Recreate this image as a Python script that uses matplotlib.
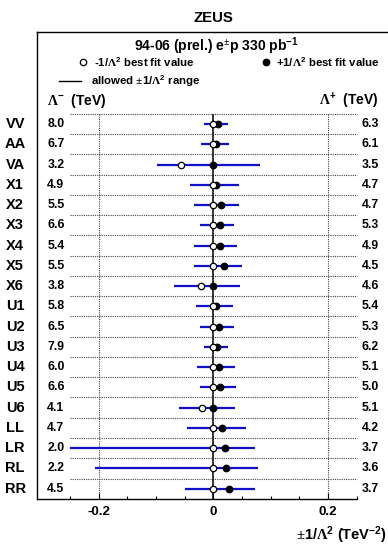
import numpy as np
import matplotlib.pyplot as plt
from matplotlib.ticker import FixedLocator

plt.rcParams['font.family'] = ['Liberation Sans', 'DejaVu Sans']
plt.rcParams['font.weight'] = 'bold'
plt.rcParams['mathtext.fontset'] = 'custom'
plt.rcParams['mathtext.rm'] = 'Liberation Serif'
plt.rcParams['mathtext.bf'] = 'Liberation Sans:bold'
plt.rcParams['mathtext.it'] = 'Liberation Sans:bold'

# contact interaction models, top to bottom
models = ['VV', 'AA', 'VA', 'X1', 'X2', 'X3', 'X4', 'X5', 'X6',
          'U1', 'U2', 'U3', 'U4', 'U5', 'U6', 'LL', 'LR', 'RL', 'RR']
lambda_minus = ['8.0', '6.7', '3.2', '4.9', '5.5', '6.6', '5.4', '5.5', '3.8',
                '5.8', '6.5', '7.9', '6.0', '6.6', '4.1', '4.7', '2.0', '2.2', '4.5']
lambda_plus = ['6.3', '6.1', '3.5', '4.7', '4.7', '5.3', '4.9', '4.5', '4.6',
               '5.4', '5.3', '6.2', '5.1', '5.0', '5.1', '4.2', '3.7', '3.6', '3.7']
# allowed range of +-1/Lambda^2 (TeV^-2)
range_lo = [-0.0156, -0.0223, -0.0977, -0.0416, -0.0331, -0.0230, -0.0343, -0.0331, -0.0693,
            -0.0297, -0.0237, -0.0160, -0.0278, -0.0230, -0.0595, -0.0453, -0.2500, -0.2066, -0.0494]
range_hi = [0.0252, 0.0269, 0.0816, 0.0453, 0.0453, 0.0356, 0.0416, 0.0494, 0.0473,
            0.0343, 0.0356, 0.0260, 0.0384, 0.0400, 0.0384, 0.0567, 0.0730, 0.0772, 0.0730]
# best fit values
fit_minus = [0.0, 0.0, -0.056, 0.0, 0.0, 0.0, 0.0, 0.0, -0.021,
             0.0, 0.0, 0.0, 0.0, 0.0, -0.019, 0.0, 0.0, 0.0, 0.0]
fit_plus = [0.0075, 0.005, 0.0, 0.004, 0.013, 0.012, 0.012, 0.019, 0.0,
            0.004, 0.009, 0.007, 0.009, 0.012, 0.0, 0.015, 0.020, 0.022, 0.027]

rows = np.arange(len(models))
XL, XR = -0.308, 0.305
YT, YB = -4.54, 18.51

fig = plt.figure(figsize=(3.88, 5.46), dpi=100)
ax = fig.add_axes([37 / 388, 1 - 499 / 546, 351 / 388, 467 / 546])
ax.set_xlim(XL, XR)
ax.set_ylim(YB, YT)

dot = dict(color='#444444', lw=0.8, linestyle=(0, (1, 1)), zorder=1)
ax.hlines(np.arange(-0.5, len(models) - 1), -0.25, 0.25, **dot)
ax.vlines([-0.2, 0.2], -0.5, YB, **dot)
ax.vlines(0, -0.5, YB, color='black', lw=1.1, zorder=2)

ax.hlines(rows, range_lo, range_hi, color='#1010c8', lw=1.6, zorder=3)
ax.plot(fit_plus, rows, 'o', color='black', ms=4.6, zorder=4)
ax.plot(fit_minus, rows, 'o', mfc='white', mec='black', mew=0.9, ms=4.6, zorder=5)

for r, m, lm, lp in zip(rows, models, lambda_minus, lambda_plus):
    ax.text(-0.346, r, m, ha='center', va='center', fontsize=10.5, clip_on=False)
    ax.text(-0.290, r, lm, ha='left', va='center', fontsize=8.8)
    ax.text(0.289, r, lp, ha='right', va='center', fontsize=8.8)

ax.text(-0.290, -1.14, r'$\Lambda^{\mathbf{-}}$  (TeV)', ha='left', va='center', fontsize=10)
ax.text(0.289, -1.14, r'$\Lambda^{\mathbf{+}}$  (TeV)', ha='right', va='center', fontsize=10)

# legend
ax.plot([-0.27, -0.231], [-2.12, -2.12], color='black', lw=1.0, clip_on=False)
ax.text(-0.214, -2.12, r'allowed $\pm$1/$\Lambda^{\mathbf{2}}$ range', ha='left', va='center', fontsize=8.2)
ax.plot([-0.228], [-3.06], 'o', mfc='white', mec='black', mew=0.9, ms=4.6)
ax.text(-0.208, -3.06, r'-1/$\Lambda^{\mathbf{2}}$ best fit value', ha='left', va='center', fontsize=8.2)
ax.plot([0.092], [-3.06], 'o', color='black', ms=4.6)
ax.text(0.110, -3.06, r'+1/$\Lambda^{\mathbf{2}}$ best fit value', ha='left', va='center', fontsize=8.2)
ax.text(0.005, -3.85, r'94-06 (prel.) e$^{\pm}$p 330 pb$^{\mathbf{-1}}$', ha='center', va='center', fontsize=10)

ax.spines['right'].set_visible(False)
ax.spines['bottom'].set_bounds(XL, 0.25)
for s in ax.spines.values():
    s.set_linewidth(1.0)

ax.set_yticks([])
ax.set_xticks([-0.2, 0, 0.2], labels=['-0.2', '0', '0.2'])
ax.xaxis.set_minor_locator(FixedLocator([-0.25, -0.15, -0.1, -0.05, 0.05, 0.1, 0.15, 0.25]))
ax.tick_params(axis='x', which='major', direction='in', length=4, width=0.8, labelsize=9.5, pad=5)
ax.tick_params(axis='x', which='minor', direction='in', length=2, width=0.8)

fig.text(213 / 388, 1 - 18 / 546, 'ZEUS', ha='center', va='center', fontsize=10.8)
fig.text(387 / 388, 1 - 535 / 546, r'$\pm$1/$\Lambda^{\mathbf{2}}$ (TeV$^{\mathbf{-2}}$)',
         ha='right', va='center', fontsize=10.5)

fig.savefig('out.png', dpi=100)
